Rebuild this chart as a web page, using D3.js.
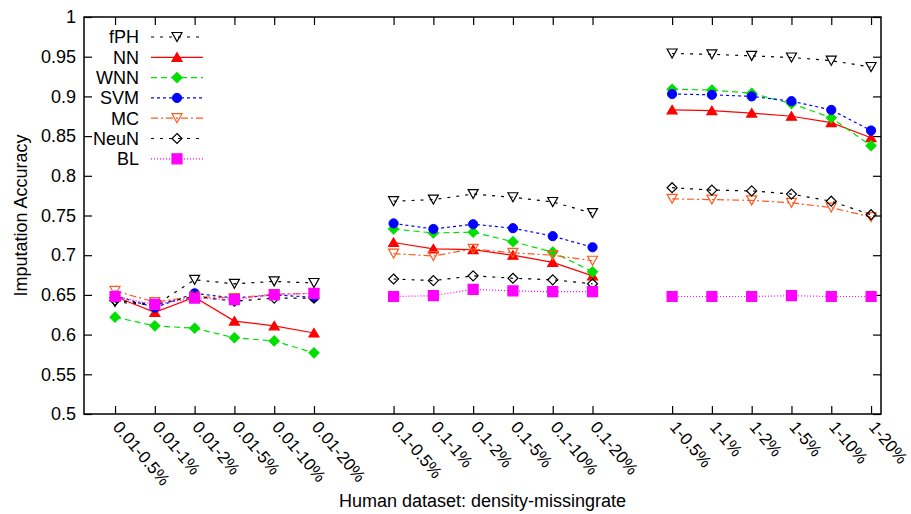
<!DOCTYPE html>
<html>
<head>
<meta charset="utf-8">
<script src="https://cdn.jsdelivr.net/npm/d3@7/dist/d3.min.js"></script>
<style>
  html, body { margin: 0; padding: 0; background: #fff; }
  svg { display: block; font-family: "Liberation Sans", Arial, Helvetica, sans-serif; }
</style>
</head>
<body>
<svg id="chart" width="911" height="514"></svg>
<script>
// ---------------- data ----------------
const categories = [
  "0.01-0.5%", "0.01-1%", "0.01-2%", "0.01-5%", "0.01-10%", "0.01-20%",
  "0.1-0.5%", "0.1-1%", "0.1-2%", "0.1-5%", "0.1-10%", "0.1-20%",
  "1-0.5%", "1-1%", "1-2%", "1-5%", "1-10%", "1-20%"
];
const groupSize = 6;
const seriesNames = ["fPH", "NN", "WNN", "SVM", "MC", "NeuN", "BL"];
const fPH  = [0.641, 0.637, 0.669, 0.664, 0.667, 0.665, 0.768, 0.770, 0.777, 0.773, 0.767, 0.753, 0.954, 0.953, 0.951, 0.949, 0.945, 0.937];
const NN   = [0.648, 0.628, 0.647, 0.617, 0.611, 0.602, 0.716, 0.708, 0.707, 0.700, 0.691, 0.674, 0.883, 0.882, 0.879, 0.875, 0.867, 0.848];
const WNN  = [0.622, 0.611, 0.608, 0.596, 0.592, 0.577, 0.733, 0.728, 0.729, 0.717, 0.704, 0.679, 0.909, 0.908, 0.904, 0.891, 0.873, 0.838];
const SVM  = [0.649, 0.634, 0.652, 0.646, 0.650, 0.647, 0.740, 0.733, 0.739, 0.734, 0.724, 0.710, 0.903, 0.902, 0.900, 0.894, 0.883, 0.857];
const MC   = [0.655, 0.641, 0.648, 0.646, 0.651, 0.652, 0.702, 0.699, 0.708, 0.703, 0.700, 0.693, 0.771, 0.770, 0.769, 0.766, 0.760, 0.748];
const NeuN = [0.643, 0.638, 0.648, 0.642, 0.646, 0.646, 0.670, 0.668, 0.674, 0.671, 0.669, 0.664, 0.785, 0.782, 0.781, 0.777, 0.768, 0.751];
const BL   = [0.648, 0.638, 0.646, 0.644, 0.650, 0.652, 0.648, 0.649, 0.657, 0.655, 0.654, 0.654, 0.648, 0.648, 0.648, 0.649, 0.648, 0.648];
const yTicks = [0.5, 0.55, 0.6, 0.65, 0.7, 0.75, 0.8, 0.85, 0.9, 0.95, 1];
const xTitle = "Human dataset: density-missingrate";
const yTitle = "Imputation Accuracy";

// ---------------- styles ----------------
const styles = {
  fPH:  { color: "#000000", dash: "3,6",       marker: "tdown",   fill: false },
  NN:   { color: "#ff0000", dash: null,        marker: "tup",     fill: true  },
  WNN:  { color: "#00e000", dash: "6,4",       marker: "diamond", fill: true  },
  SVM:  { color: "#0000ff", dash: "3,3",       marker: "circle",  fill: true  },
  MC:   { color: "#ff5a1f", dash: "7,3,2,3",   marker: "tdown",   fill: false },
  NeuN: { color: "#000000", dash: "3,6",       marker: "diamond", fill: false },
  BL:   { color: "#ff00ff", dash: "1,2",       marker: "square",  fill: true  }
};
const seriesData = { fPH, NN, WNN, SVM, MC, NeuN, BL };

const markerPaths = {
  tdown:   "M-5,-4.5L5,-4.5L0,4.5Z",
  tup:     "M0,-4.5L5,4L-5,4Z",
  diamond: "M0,-5L5,0L0,5L-5,0Z",
  square:  "M-5,-5L5,-5L5,5L-5,5Z"
};

// ---------------- layout ----------------
const svg = d3.select("#chart");
const plot = { left: 84, right: 881, top: 17, bottom: 414 };

const posOf = i => Math.floor(i / groupSize) * (groupSize + 1) + (i % groupSize);
const x = d3.scaleLinear().domain([-0.78, 19.25]).range([plot.left, plot.right]);
const y = d3.scaleLinear().domain([0.5, 1]).range([plot.bottom, plot.top]);

// axes
const fmt = v => String(+v.toFixed(2));
const yAxis = d3.axisLeft(y).tickValues(yTicks).tickFormat(fmt).tickSizeInner(-8).tickSizeOuter(0).tickPadding(8);
const yAxisR = d3.axisRight(y).tickValues(yTicks).tickFormat("").tickSizeInner(-8).tickSizeOuter(0);
const xVals = categories.map((c, i) => posOf(i));
const xAxis = d3.axisBottom(x).tickValues(xVals).tickFormat((d, i) => categories[i]).tickSizeInner(-8).tickSizeOuter(0);
const xAxisT = d3.axisTop(x).tickValues(xVals).tickFormat("").tickSizeInner(-8).tickSizeOuter(0);

const gy = svg.append("g").attr("transform", `translate(${plot.left},0)`).call(yAxis);
const gyr = svg.append("g").attr("transform", `translate(${plot.right},0)`).call(yAxisR);
const gx = svg.append("g").attr("transform", `translate(0,${plot.bottom})`).call(xAxis);
const gxt = svg.append("g").attr("transform", `translate(0,${plot.top})`).call(xAxisT);
[gy, gyr, gx, gxt].forEach(g => {
  g.select(".domain").remove();
  g.selectAll(".tick line").attr("stroke", "#000").attr("stroke-width", 1.2);
});
gy.selectAll("text").attr("font-size", 18).attr("fill", "#000");
gx.selectAll("text")
  .attr("font-size", 17).attr("fill", "#000")
  .attr("text-anchor", "start")
  .attr("x", null).attr("y", null).attr("dy", null)
  .attr("transform", "translate(-3.5,13.5) rotate(50)");

// frame
svg.append("rect")
  .attr("x", plot.left).attr("y", plot.top)
  .attr("width", plot.right - plot.left).attr("height", plot.bottom - plot.top)
  .attr("fill", "none").attr("stroke", "#000").attr("stroke-width", 1.5);

// titles
svg.append("text").attr("x", (plot.left + plot.right) / 2).attr("y", 507)
  .attr("text-anchor", "middle").attr("font-size", 18).text(xTitle);
svg.append("text").attr("transform", `translate(27,${(plot.top + plot.bottom) / 2}) rotate(-90)`)
  .attr("text-anchor", "middle").attr("font-size", 18).text(yTitle);

// series
function drawMarker(g, st, cx, cy) {
  if (st.marker === "circle") {
    g.append("circle").attr("cx", cx).attr("cy", cy).attr("r", 4.6)
      .attr("fill", st.color).attr("stroke", st.color).attr("stroke-width", 1);
  } else {
    g.append("path").attr("d", markerPaths[st.marker])
      .attr("transform", `translate(${cx},${cy})`)
      .attr("fill", st.fill ? st.color : "none")
      .attr("stroke", st.color).attr("stroke-width", 1.2);
  }
}

const line = d3.line().x(d => x(d.p)).y(d => y(d.v));
seriesNames.forEach(name => {
  const st = styles[name];
  const vals = seriesData[name];
  const g = svg.append("g");
  const pts = vals.map((v, i) => ({ p: posOf(i), v, grp: Math.floor(i / groupSize) }));
  d3.groups(pts, d => d.grp).forEach(([k, arr]) => {
    g.append("path").attr("d", line(arr)).attr("fill", "none")
      .attr("stroke", st.color).attr("stroke-width", 1.2)
      .attr("stroke-dasharray", st.dash);
  });
  pts.forEach(d => drawMarker(g, st, x(d.p), y(d.v)));
});

// legend
const legY0 = 37, legDY = 20.3;
seriesNames.forEach((name, i) => {
  const st = styles[name];
  const ly = legY0 + i * legDY;
  const g = svg.append("g");
  g.append("text").attr("x", 139).attr("y", ly).attr("dy", "0.36em")
    .attr("text-anchor", "end").attr("font-size", 18).text(name);
  g.append("line").attr("x1", 151).attr("x2", 203).attr("y1", ly).attr("y2", ly)
    .attr("stroke", st.color).attr("stroke-width", 1.2).attr("stroke-dasharray", st.dash);
  drawMarker(g, st, 177, ly);
});
</script>
</body>
</html>
